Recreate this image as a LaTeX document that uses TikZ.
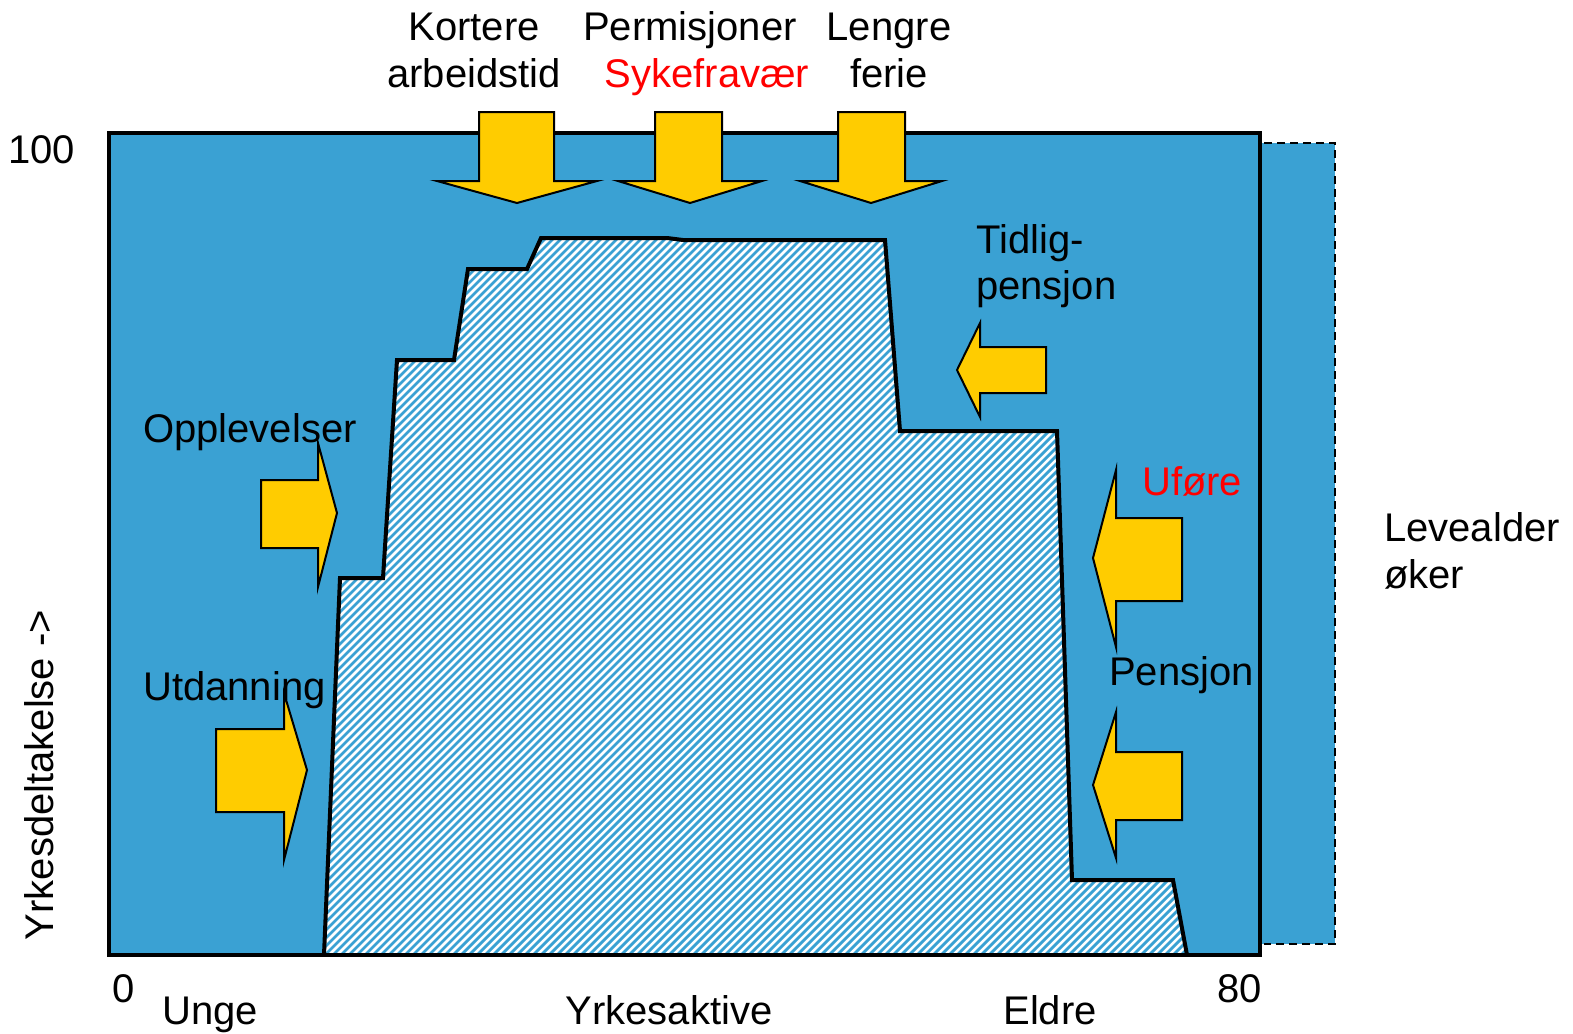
\documentclass[tikz,border=0pt]{standalone}
\usepackage{fontspec}
\setmainfont{Liberation Sans}
\definecolor{bl}{RGB}{58,161,211}
\definecolor{yel}{RGB}{255,204,0}
\begin{document}
\begin{tikzpicture}[x=1pt,y=-1pt,
  font=\fontsize{40}{47}\selectfont,
  lbl/.style={inner sep=0pt, anchor=base west},
  clbl/.style={inner sep=0pt, anchor=base},
  arr/.style={fill=yel, draw=black, line width=2pt, line join=miter},
  frame/.style={draw=black, line width=4pt, line join=miter}]
\useasboundingbox (0,0) rectangle (1573,1033);
% background blue area
\fill[bl] (109,133) rectangle (1260,955);
% extension box (life expectancy)
\fill[bl] (1262,143) rectangle (1335,944);
\draw[line width=2pt, dash pattern=on 8pt off 5pt] (1264,143) -- (1335,143) -- (1335,944) -- (1264,944);
% hatched participation profile
\begin{scope}
  \clip (324,955) -- (340,578) -- (383,578) -- (397,360) -- (454,360) -- (468,269) -- (527,269) -- (541,238) -- (667,238) -- (683,240) -- (885,240) -- (900,431) -- (1057,431) -- (1072,880) -- (1173,880) -- (1187,955) -- cycle;
  \fill[white] (300,200) rectangle (1200,960);
  \foreach \a in {-400,-392,...,1200}
    \draw[bl, line width=2.8pt] (\a,960) -- ++(840,-840);
\end{scope}
\draw[line width=4pt, line join=miter] (324,955) -- (340,578) -- (383,578) -- (397,360) -- (454,360) -- (468,269) -- (527,269) -- (541,238) -- (667,238) -- (683,240) -- (885,240) -- (900,431) -- (1057,431) -- (1072,880) -- (1173,880) -- (1187,955);
\draw[frame] (109,133) rectangle (1260,955);
% top arrows (down)
\draw[arr] (479,112) -- (554,112) -- (554,181) -- (597,181) -- (517,203) -- (437,181) -- (479,181) -- cycle;
\draw[arr] (655,112) -- (722,112) -- (722,181) -- (762,181) -- (690,203) -- (618,181) -- (655,181) -- cycle;
\draw[arr] (838,112) -- (905,112) -- (905,181) -- (942,181) -- (871,203) -- (800,181) -- (838,181) -- cycle;
% left arrows (pointing right)
\draw[arr] (261,480) -- (318,480) -- (318,443) -- (337,513) -- (318,587) -- (318,548) -- (261,548) -- cycle;
\draw[arr] (216,729) -- (284,729) -- (284,693) -- (307,770) -- (284,860) -- (284,812) -- (216,812) -- cycle;
% right arrows (pointing left)
\draw[arr] (1046,347) -- (980,347) -- (980,323) -- (957,370) -- (980,417) -- (980,393) -- (1046,393) -- cycle;
\draw[arr] (1182,518) -- (1116,518) -- (1116,470) -- (1093,558) -- (1116,647) -- (1116,601) -- (1182,601) -- cycle;
\draw[arr] (1182,752) -- (1116,752) -- (1116,712) -- (1093,785) -- (1116,858) -- (1116,820) -- (1182,820) -- cycle;
% labels
\node[clbl] (kort) at (474,41) {Kortere};
\node[clbl] (arb) at (474,88) {arbeidstid};
\node[clbl] (perm) at (690,41) {Permisjoner};
\node[clbl, text=red] (syk) at (707,88) {Sykefravær};
\node[clbl] (leng) at (889,41) {Lengre};
\node[clbl] (ferie) at (889,88) {ferie};
\node[lbl] (hundre) at (8,163) {100};
\node[lbl] (tidl) at (976,253) {Tidlig-};
\node[lbl] (tidl2) at (976,299) {pensjon};
\node[lbl] (oppl) at (143,442) {Opplevelser};
\node[lbl, text=red] (ufore) at (1142,495) {Uføre};
\node[lbl] (leve) at (1384,541) {Levealder};
\node[lbl] (oker) at (1384,588) {øker};
\node[lbl] (utd) at (143,700) {Utdanning};
\node[lbl] (pens) at (1109,685) {Pensjon};
\node[clbl, rotate=90] (yaxis) at (53,775) {Yrkesdeltakelse ->};
\node[lbl] (null) at (112,1002) {0};
\node[lbl] (atti) at (1217,1002) {80};
\node[clbl] (unge) at (210,1024) {Unge};
\node[clbl] (yrk) at (669,1024) {Yrkesaktive};
\node[clbl] (eldre) at (1050,1024) {Eldre};
\end{tikzpicture}
\end{document}
